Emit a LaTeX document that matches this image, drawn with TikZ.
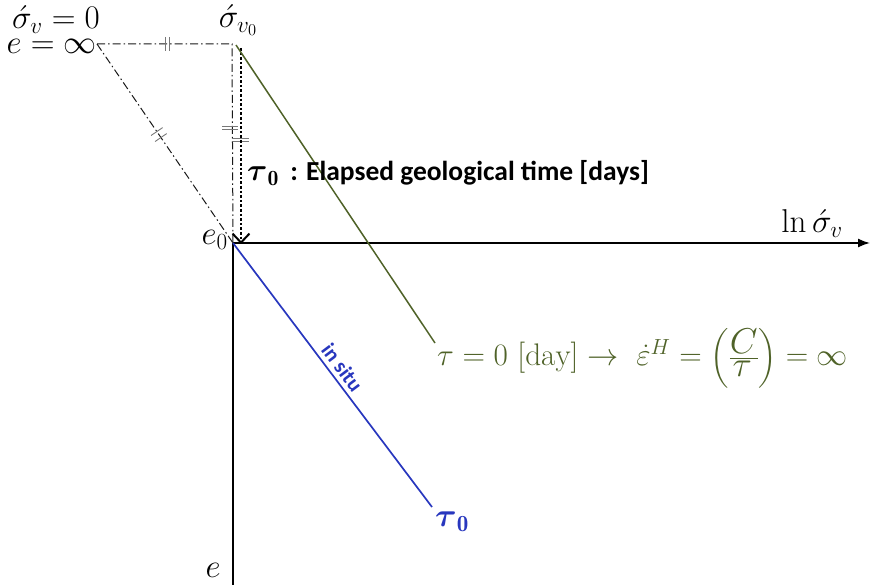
\RequirePackage{fix-cm}
\documentclass[tikz,border=0pt]{standalone}
\usepackage{amsmath}
\usepackage{fontspec}
\newfontfamily\calibri{Carlito}
\usetikzlibrary{arrows.meta,calc}
\definecolor{olivegr}{RGB}{79,98,40}
\definecolor{situblue}{RGB}{40,55,190}
\definecolor{tickgray}{RGB}{120,120,120}
\begin{document}
\begin{tikzpicture}[x=1pt,y=-1pt,
  lbl/.style={inner sep=0pt,font=\fontsize{33}{37}\selectfont},
  dashdotline/.style={line width=1pt,dash pattern=on 8pt off 3pt on 1.5pt off 3pt,black!90},
  brk/.style={line width=0.9pt,tickgray},
  axisline/.style={line width=1.6pt,black}]
\useasboundingbox (0,0) rectangle (870,585);
\coordinate (O) at (233,243);
\coordinate (T) at (232,44);
\coordinate (Inf) at (97,44);
\coordinate (Gs) at (236,45);
\coordinate (G) at (435,343);
\coordinate (B) at (432,507);
\coordinate (X) at (870,243);
\coordinate (Y) at (233,585);
\coordinate (Ds) at (241,48);
\coordinate (De) at (241,244);
% dash-dot construction lines
\draw[dashdotline] (Inf) -- (T) -- (O);
\draw[dashdotline] (Inf) -- (O);
% break marks
\draw[brk] (165,37) -- (165,51) (169,37) -- (169,51);
\draw[brk] (222,126) -- (238,126) (222,129.5) -- (238,129.5);
\draw[brk] (232,138) -- (249,138) (233,141.5) -- (249,141.5);
\coordinate (Dm) at ($(Inf)!0.44!(O)$);
\coordinate (Dn) at ($(Inf)!0.47!(O)$);
\draw[brk] ($(Dm)!7pt!90:(O)$) -- ($(Dm)!7pt!-90:(O)$);
\draw[brk] ($(Dn)!7pt!90:(O)$) -- ($(Dn)!7pt!-90:(O)$);
% dotted arrow
\draw[line width=2.6pt,dotted,-{Straight Barb[length=9pt,width=17pt,line width=2pt]}] (Ds) -- (De);
% axes
\draw[axisline,-{Latex[length=12pt,width=9pt]}] (O) -- (X);
\draw[axisline] (O) -- (Y);
% green line
\draw[olivegr,line width=1.5pt] (Gs) -- (G);
% blue line
\draw[situblue,line width=1.7pt] (O) -- node[pos=0.5,above=3pt,sloped,inner sep=1pt,font=\calibri\bfseries\fontsize{21}{22}\selectfont]{in situ} (B);
% labels
\node[lbl] (l1) at (56,20) {$\acute{\sigma}_v = 0$};
\node[lbl,anchor=east] (l2) at (97,46) {$e = \infty$};
\node[lbl] (l3) at (238,20) {$\acute{\sigma}_{v_0}$};
\node[lbl,anchor=east] (l4) at (228,240) {$e_0$};
\node[lbl] (l5) at (812,224) {$\ln \acute{\sigma}_v$};
\node[lbl] (l6) at (213,570) {$e$};
\node[lbl,text=situblue] (l7) at (452,522) {$\boldsymbol{\tau}_{\mathbf{0}}$};
\node[lbl,anchor=west,font=\fontsize{31}{35}\selectfont] (l8) at (247,173) {$\boldsymbol{\tau}_{\mathbf{0}}$\,{\calibri\bfseries\fontsize{27.5}{32}\selectfont\ : Elapsed geological time [days]}};
\node[lbl,anchor=west,text=olivegr,font=\fontsize{31.2}{35}\selectfont] (l9) at (437,358) {$\tau = 0\ [\mathrm{day}] \rightarrow\ \dot{\varepsilon}^{H} = \left(\frac{\scalebox{1.15}{$C$}}{\scalebox{1.15}{$\tau$}}\right) = \infty$};
\end{tikzpicture}
\end{document}
